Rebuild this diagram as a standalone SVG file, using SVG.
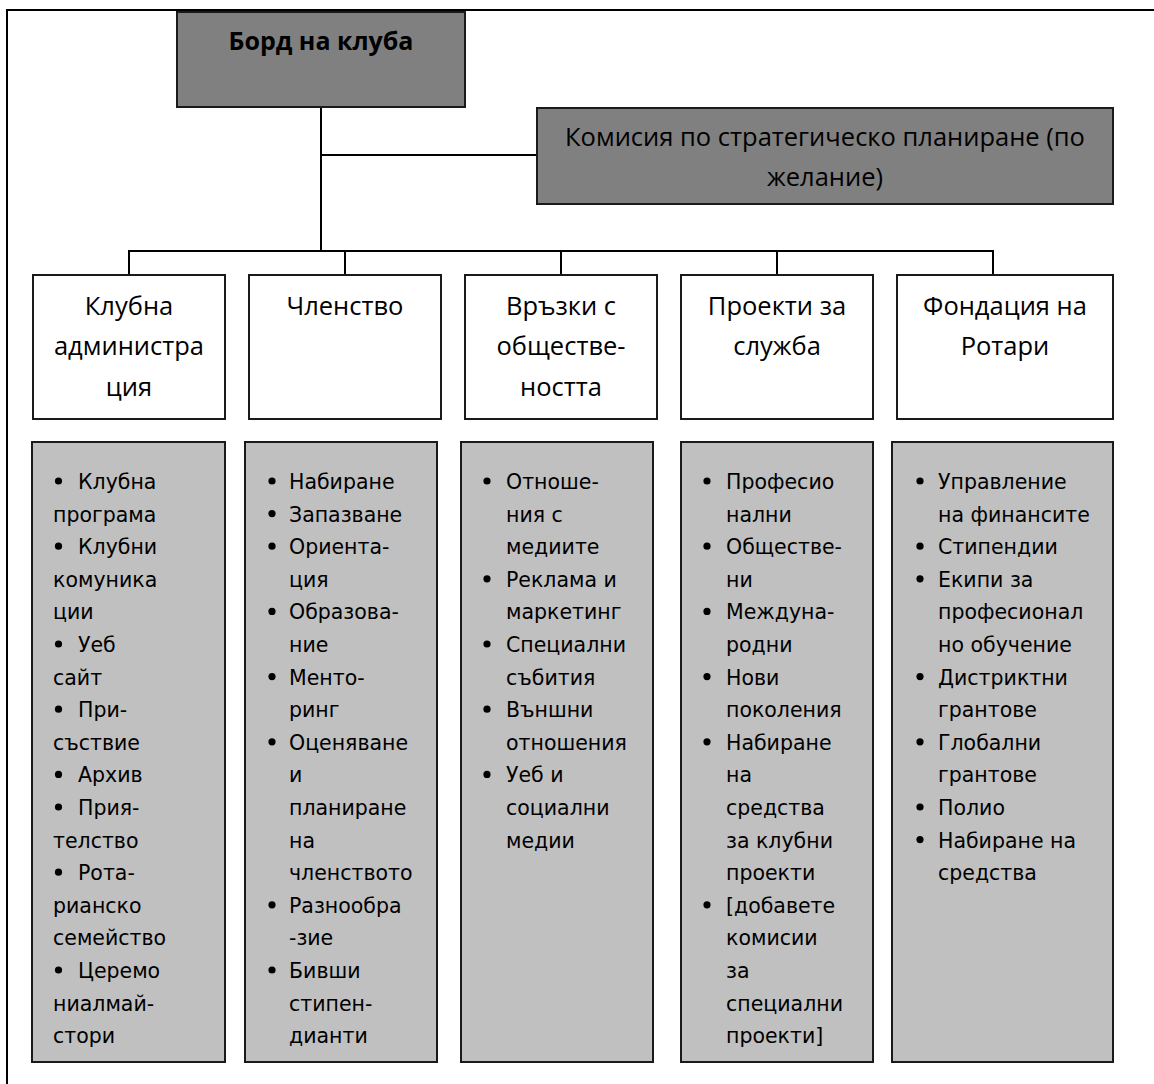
<svg xmlns="http://www.w3.org/2000/svg" width="1154" height="1084" viewBox="0 0 1154 1084">
<style>
.frame{fill:none;stroke:#000;stroke-width:2}
.dark{fill:#808080;stroke:#1a1a1a;stroke-width:2}
.white{fill:#fff;stroke:#1a1a1a;stroke-width:2}
.light{fill:#c0c0c0;stroke:#1a1a1a;stroke-width:2}
.conn{fill:none;stroke:#000;stroke-width:2}
.head{font-family:"Open Sans","Liberation Sans",sans-serif;font-size:25.5px;fill:#000;text-anchor:middle}
.bold{font-weight:bold;font-size:25px}
.list{font-family:"DejaVu Sans","Liberation Sans",sans-serif;font-size:20.5px;fill:#000}
.bul{fill:#000}
</style>
<rect width="1154" height="1084" fill="#fff"/>
<rect class="frame" x="7" y="10" width="1200" height="1100"/>

<g id="connectors">
<path class="conn" d="M321,107 V251 M321,155 H537 M128,251 H994 M129,251 V275 M345,251 V275 M561,251 V275 M777,251 V275 M993,251 V275"/>
</g>

<g id="board">
<rect class="dark" x="177" y="12" width="288" height="95"/>
<text class="head bold" x="321" y="50">Борд на клуба</text>
</g>

<g id="strategic">
<rect class="dark" x="537" y="108" width="576" height="96"/>
<text class="head" x="825" y="146">Комисия по стратегическо планиране (по</text>
<text class="head" x="825" y="186">желание)</text>
</g>

<g id="admin">
<rect class="white" x="33" y="275" width="192" height="144"/>
<text class="head"><tspan x="129" y="315">Клубна</tspan><tspan x="129" y="355">администра</tspan><tspan x="129" y="396">ция</tspan></text>
</g>

<g id="membership">
<rect class="white" x="249" y="275" width="192" height="144"/>
<text class="head" x="345" y="315">Членство</text>
</g>

<g id="publicrel">
<rect class="white" x="465" y="275" width="192" height="144"/>
<text class="head"><tspan x="561" y="315">Връзки с</tspan><tspan x="561" y="355">обществе-</tspan><tspan x="561" y="396">ността</tspan></text>
</g>

<g id="service">
<rect class="white" x="681" y="275" width="192" height="144"/>
<text class="head"><tspan x="777" y="315">Проекти за</tspan><tspan x="777" y="355">служба</tspan></text>
</g>

<g id="foundation">
<rect class="white" x="897" y="275" width="216" height="144"/>
<text class="head"><tspan x="1005" y="315">Фондация на</tspan><tspan x="1005" y="355">Ротари</tspan></text>
</g>

<g id="admin-list">
<rect class="light" x="32" y="442" width="193" height="620"/>
<g class="bul">
<circle cx="58.5" cy="481" r="3.6"/><circle cx="58.5" cy="546.2" r="3.6"/><circle cx="58.5" cy="644" r="3.6"/><circle cx="58.5" cy="709.2" r="3.6"/><circle cx="58.5" cy="774.4" r="3.6"/><circle cx="58.5" cy="807" r="3.6"/><circle cx="58.5" cy="872.2" r="3.6"/><circle cx="58.5" cy="970" r="3.6"/>
</g>
<text class="list">
<tspan x="78" y="489">Клубна</tspan>
<tspan x="53" y="521.6">програма</tspan>
<tspan x="78" y="554.2">Клубни</tspan>
<tspan x="53" y="586.8">комуника</tspan>
<tspan x="53" y="619.4">ции</tspan>
<tspan x="78" y="652">Уеб</tspan>
<tspan x="53" y="684.6">сайт</tspan>
<tspan x="78" y="717.2">При-</tspan>
<tspan x="53" y="749.8">съствие</tspan>
<tspan x="78" y="782.4">Архив</tspan>
<tspan x="78" y="815">Прия-</tspan>
<tspan x="53" y="847.6">телство</tspan>
<tspan x="78" y="880.2">Рота-</tspan>
<tspan x="53" y="912.8">рианско</tspan>
<tspan x="53" y="945.4">семейство</tspan>
<tspan x="78" y="978">Церемо</tspan>
<tspan x="53" y="1010.6">ниалмай-</tspan>
<tspan x="53" y="1043.2">стори</tspan>
</text>
</g>

<g id="membership-list">
<rect class="light" x="245" y="442" width="192" height="620"/>
<g class="bul">
<circle cx="272" cy="481" r="3.6"/><circle cx="272" cy="513.6" r="3.6"/><circle cx="272" cy="546.2" r="3.6"/><circle cx="272" cy="611.4" r="3.6"/><circle cx="272" cy="676.6" r="3.6"/><circle cx="272" cy="741.8" r="3.6"/><circle cx="272" cy="904.8" r="3.6"/><circle cx="272" cy="970" r="3.6"/>
</g>
<text class="list">
<tspan x="289" y="489">Набиране</tspan>
<tspan x="289" y="521.6">Запазване</tspan>
<tspan x="289" y="554.2">Ориента-</tspan>
<tspan x="289" y="586.8">ция</tspan>
<tspan x="289" y="619.4">Образова-</tspan>
<tspan x="289" y="652">ние</tspan>
<tspan x="289" y="684.6">Менто-</tspan>
<tspan x="289" y="717.2">ринг</tspan>
<tspan x="289" y="749.8">Оценяване</tspan>
<tspan x="289" y="782.4">и</tspan>
<tspan x="289" y="815">планиране</tspan>
<tspan x="289" y="847.6">на</tspan>
<tspan x="289" y="880.2">членството</tspan>
<tspan x="289" y="912.8">Разнообра</tspan>
<tspan x="289" y="945.4">-зие</tspan>
<tspan x="289" y="978">Бивши</tspan>
<tspan x="289" y="1010.6">стипен-</tspan>
<tspan x="289" y="1043.2">дианти</tspan>
</text>
</g>

<g id="publicrel-list">
<rect class="light" x="461" y="442" width="192" height="620"/>
<g class="bul">
<circle cx="487" cy="481" r="3.6"/><circle cx="487" cy="578.8" r="3.6"/><circle cx="487" cy="644" r="3.6"/><circle cx="487" cy="709.2" r="3.6"/><circle cx="487" cy="774.4" r="3.6"/>
</g>
<text class="list">
<tspan x="506" y="489">Отноше-</tspan>
<tspan x="506" y="521.6">ния с</tspan>
<tspan x="506" y="554.2">медиите</tspan>
<tspan x="506" y="586.8">Реклама и</tspan>
<tspan x="506" y="619.4">маркетинг</tspan>
<tspan x="506" y="652">Специални</tspan>
<tspan x="506" y="684.6">събития</tspan>
<tspan x="506" y="717.2">Външни</tspan>
<tspan x="506" y="749.8">отношения</tspan>
<tspan x="506" y="782.4">Уеб и</tspan>
<tspan x="506" y="815">социални</tspan>
<tspan x="506" y="847.6">медии</tspan>
</text>
</g>

<g id="service-list">
<rect class="light" x="681" y="442" width="192" height="620"/>
<g class="bul">
<circle cx="707" cy="481" r="3.6"/><circle cx="707" cy="546.2" r="3.6"/><circle cx="707" cy="611.4" r="3.6"/><circle cx="707" cy="676.6" r="3.6"/><circle cx="707" cy="741.8" r="3.6"/><circle cx="707" cy="904.8" r="3.6"/>
</g>
<text class="list">
<tspan x="726" y="489">Професио</tspan>
<tspan x="726" y="521.6">нални</tspan>
<tspan x="726" y="554.2">Обществе-</tspan>
<tspan x="726" y="586.8">ни</tspan>
<tspan x="726" y="619.4">Междуна-</tspan>
<tspan x="726" y="652">родни</tspan>
<tspan x="726" y="684.6">Нови</tspan>
<tspan x="726" y="717.2">поколения</tspan>
<tspan x="726" y="749.8">Набиране</tspan>
<tspan x="726" y="782.4">на</tspan>
<tspan x="726" y="815">средства</tspan>
<tspan x="726" y="847.6">за клубни</tspan>
<tspan x="726" y="880.2">проекти</tspan>
<tspan x="726" y="912.8">[добавете</tspan>
<tspan x="726" y="945.4">комисии</tspan>
<tspan x="726" y="978">за</tspan>
<tspan x="726" y="1010.6">специални</tspan>
<tspan x="726" y="1043.2">проекти]</tspan>
</text>
</g>

<g id="foundation-list">
<rect class="light" x="892" y="442" width="221" height="620"/>
<g class="bul">
<circle cx="920" cy="481" r="3.6"/><circle cx="920" cy="546.2" r="3.6"/><circle cx="920" cy="578.8" r="3.6"/><circle cx="920" cy="676.6" r="3.6"/><circle cx="920" cy="741.8" r="3.6"/><circle cx="920" cy="807" r="3.6"/><circle cx="920" cy="839.6" r="3.6"/>
</g>
<text class="list">
<tspan x="938" y="489">Управление</tspan>
<tspan x="938" y="521.6">на финансите</tspan>
<tspan x="938" y="554.2">Стипендии</tspan>
<tspan x="938" y="586.8">Екипи за</tspan>
<tspan x="938" y="619.4">професионал</tspan>
<tspan x="938" y="652">но обучение</tspan>
<tspan x="938" y="684.6">Дистриктни</tspan>
<tspan x="938" y="717.2">грантове</tspan>
<tspan x="938" y="749.8">Глобални</tspan>
<tspan x="938" y="782.4">грантове</tspan>
<tspan x="938" y="815">Полио</tspan>
<tspan x="938" y="847.6">Набиране на</tspan>
<tspan x="938" y="880.2">средства</tspan>
</text>
</g>
</svg>
